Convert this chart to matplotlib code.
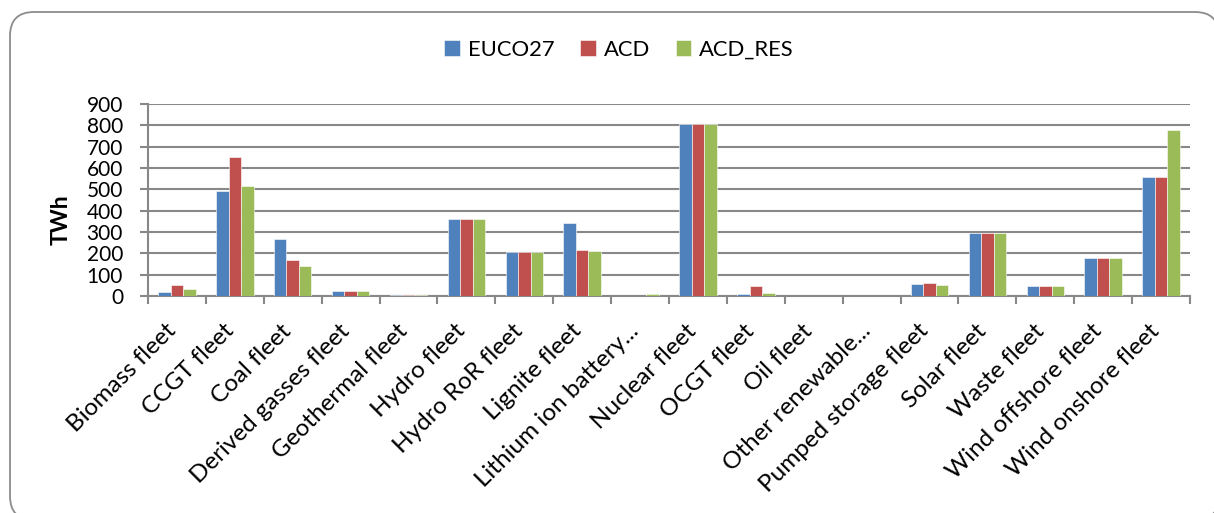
import matplotlib.pyplot as plt
import matplotlib.transforms as mtransforms
import numpy as np
from matplotlib.patches import FancyBboxPatch

# Generation by fleet (TWh) for each scenario
fleets = ['Biomass fleet', 'CCGT fleet', 'Coal fleet', 'Derived gasses fleet',
          'Geothermal fleet', 'Hydro fleet', 'Hydro RoR fleet', 'Lignite fleet',
          'Lithium ion battery...', 'Nuclear fleet', 'OCGT fleet', 'Oil fleet',
          'Other renewable...', 'Pumped storage fleet', 'Solar fleet',
          'Waste fleet', 'Wind offshore fleet', 'Wind onshore fleet']
euco27 = [20, 493, 268, 24, 5, 363, 204, 341, 0, 805, 9, 0, 0, 57, 295, 47, 178, 557]
acd = [52, 652, 170, 24, 5, 363, 204, 216, 0, 805, 47, 0, 0, 60, 295, 47, 178, 557]
acd_res = [32, 516, 142, 24, 5, 363, 204, 212, 9, 805, 13, 0, 0, 52, 295, 47, 178, 780]
series = ['EUCO27', 'ACD', 'ACD_RES']
colors = ['#4F81BD', '#C0504D', '#9BBB59']

plt.rcParams['font.family'] = ['Lato', 'DejaVu Sans']

W, H = 1214, 513
fig = plt.figure(figsize=(W / 100, H / 100), dpi=100)

# background layer in pixel units for the rounded chart border
bg = fig.add_axes([0, 0, 1, 1], zorder=-1)
bg.set_xlim(0, W)
bg.set_ylim(H, 0)
bg.axis('off')
bg.add_patch(FancyBboxPatch((10, 12), 1209, 508,
                            boxstyle='round,pad=0,rounding_size=24',
                            facecolor='white', edgecolor='#8c8c8c',
                            linewidth=1.3, clip_on=False))

ax = fig.add_axes([148 / W, 1 - 296 / H, (1190 - 148) / W, (296 - 104) / H])
ax.patch.set_alpha(0)

x = np.arange(len(fleets))
w = 0.216
for i, (vals, name, c) in enumerate(zip([euco27, acd, acd_res], series, colors)):
    ax.bar(x + (i - 1) * w, vals, width=w, color=c, label=name,
           edgecolor='#ffffff', linewidth=0.4, zorder=3)

ax.set_xlim(-0.5, len(fleets) - 0.5)
ax.set_ylim(0, 900)
ax.set_yticks(np.arange(0, 901, 100))
ax.grid(axis='y', color='#888888', linewidth=1.5, zorder=0)

ax.set_xticks(x)
ax.set_xticklabels(fleets, rotation=45, ha='right', va='baseline',
                   rotation_mode='anchor', fontsize=17.5)
shift = mtransforms.ScaledTranslation(5 / 72, 0, fig.dpi_scale_trans)
for lbl in ax.get_xticklabels():
    lbl.set_transform(lbl.get_transform() + shift)
ax.set_xticks(np.arange(-0.5, len(fleets), 1), minor=True)
ax.tick_params(axis='x', which='major', length=0, pad=26)
ax.tick_params(axis='x', which='minor', length=6, width=1.5, color='#888888')
ax.tick_params(axis='y', length=6, width=1.5, color='#888888', labelsize=15, pad=12)

for s in ['top', 'right']:
    ax.spines[s].set_visible(False)
for s in ['left', 'bottom']:
    ax.spines[s].set_color('#888888')
    ax.spines[s].set_linewidth(1.5)

ax.set_ylabel('TWh', fontsize=16.5, fontweight='bold')
ax.yaxis.set_label_coords(-0.073, 0.396)

fig.legend(loc='center', bbox_to_anchor=(0.51, 0.903), ncol=3, frameon=False,
           fontsize=15.8, handlelength=0.7, handleheight=0.7, handletextpad=0.35,
           columnspacing=1.2)

fig.savefig('out.png', dpi=100)
